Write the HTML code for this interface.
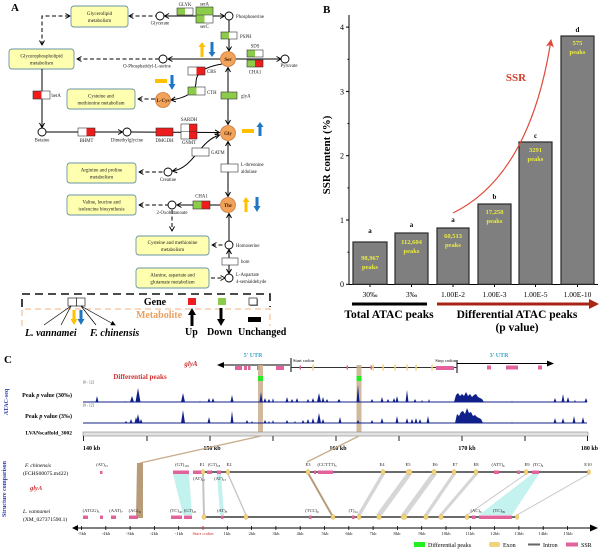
<!DOCTYPE html>
<html><head><meta charset="utf-8">
<style>
html,body{margin:0;padding:0;background:#fff;}
svg{display:block;font-family:"Liberation Serif",serif;}
.bx{fill:#ffffb0;stroke:#6a96a6;stroke-width:0.9;}
.bt{font-size:5px;text-anchor:middle;fill:#222;}
.lb{font-size:4.8px;fill:#222;}
.lbc{font-size:4.8px;fill:#222;text-anchor:middle;}
.dash{fill:none;stroke:#000;stroke-width:1;stroke-dasharray:4,2.5;}
.sl{fill:none;stroke:#000;stroke-width:1;}
.mc{fill:#fff;stroke:#000;stroke-width:0.9;}
.oc{fill:#f2a35a;stroke:#c8783a;stroke-width:0.8;}
.ct{font-size:5px;font-weight:bold;text-anchor:middle;fill:#3a1a00;}
.gb{fill:none;stroke:#333;stroke-width:0.6;}
.pk{fill:#e2629c;}
.ex{fill:#f2d27a;stroke:#d8aa40;stroke-width:0.4;}
.tk{font-size:4.6px;text-anchor:middle;fill:#222;}
.sr{font-size:4.6px;text-anchor:middle;fill:#222;}
</style></head>
<body>
<svg width="600" height="551" viewBox="0 0 600 551" xmlns="http://www.w3.org/2000/svg">
<defs>
<marker id="ah" viewBox="0 0 6 6" refX="5.5" refY="3" markerWidth="6" markerHeight="6" markerUnits="userSpaceOnUse" orient="auto-start-reverse"><path d="M1,0.5 L5.5,3 L1,5.5" fill="none" stroke="#000" stroke-width="1"/></marker>
<marker id="af" viewBox="0 0 6 6" refX="5" refY="3" markerWidth="5" markerHeight="5" markerUnits="userSpaceOnUse" orient="auto-start-reverse"><path d="M0,0 L6,3 L0,6 Z" fill="#000"/></marker>
<marker id="ar" viewBox="0 0 8 8" refX="7" refY="4" markerWidth="8" markerHeight="8" markerUnits="userSpaceOnUse" orient="auto"><path d="M0,0 L8,4 L0,8 L2,4 Z" fill="#e04a3a"/></marker>
</defs>
<rect width="600" height="551" fill="#fff"/>

<!-- ================= PANEL A ================= -->
<text x="11" y="11" font-size="11" font-weight="bold">A</text>

<!-- boxes -->
<rect class="bx" x="71" y="6" width="57" height="21" rx="3"/>
<text class="bt" x="99.5" y="15">Glycerolipid</text><text class="bt" x="99.5" y="22">metabolism</text>
<rect class="bx" x="9" y="49" width="65" height="20" rx="3"/>
<text class="bt" x="41.5" y="57.5">Glycerophospholipid</text><text class="bt" x="41.5" y="64.5">metabolism</text>
<rect class="bx" x="67" y="89" width="68" height="20" rx="3"/>
<text class="bt" x="101" y="97.5">Cysteine and</text><text class="bt" x="101" y="104.5">methionine metabolism</text>
<rect class="bx" x="67" y="163" width="69" height="20" rx="3"/>
<text class="bt" x="101.5" y="171.5">Arginine and proline</text><text class="bt" x="101.5" y="178.5">metabolism</text>
<rect class="bx" x="67" y="195" width="69" height="20" rx="3"/>
<text class="bt" x="101.5" y="203.5">Valine, leucine and</text><text class="bt" x="101.5" y="210.5">isoleucine biosynthesis</text>
<rect class="bx" x="136" y="236" width="73" height="19" rx="3"/>
<text class="bt" x="172.5" y="244">Cysteine and methionine</text><text class="bt" x="172.5" y="251">metabolism</text>
<rect class="bx" x="136" y="268" width="73" height="20" rx="3"/>
<text class="bt" x="172.5" y="276.5">Alanine, aspartate and</text><text class="bt" x="172.5" y="283.5">glutamate metabolism</text>

<!-- dashed connections -->
<path class="dash" d="M42,45 L42,16 L70,16" marker-start="url(#ah)" marker-end="url(#ah)"/>
<path class="dash" d="M129,16 L156,16" marker-start="url(#ah)"/>
<path class="dash" d="M77,59 L159,59" marker-start="url(#ah)"/>
<path class="dash" d="M138,99 L155,99" marker-start="url(#ah)"/>
<path class="dash" d="M139,172 L164,172" marker-start="url(#ah)"/>
<path class="dash" d="M139,205 L168,205" marker-start="url(#ah)"/>
<path class="dash" d="M172,210 L172,231" marker-end="url(#ah)"/>
<path class="dash" d="M212,245 L225,245" marker-start="url(#ah)"/>
<path class="dash" d="M211,278 L225,278" marker-end="url(#ah)"/>

<!-- solid connections -->
<path class="sl" d="M164.5,16 L224.5,16" marker-start="url(#ah)" marker-end="url(#ah)"/>
<path class="sl" d="M229,20 L229,51" marker-end="url(#ah)"/>
<path class="sl" d="M220,59 L168,59" marker-end="url(#ah)"/>
<path class="sl" d="M236,59 L281,59" marker-end="url(#ah)"/>
<path class="sl" d="M222,64 C203,67 196,74 196,82 C196,92 186,98 171,100" marker-end="url(#ah)"/>
<path class="sl" d="M228,67.5 L228,124.5" marker-start="url(#ah)" marker-end="url(#ah)"/>
<path class="sl" d="M42,69 L42,127.5" marker-end="url(#ah)"/>
<path class="sl" d="M46,132 L122.5,132" marker-end="url(#ah)"/>
<path class="sl" d="M131,132 L219.5,132.5" marker-end="url(#ah)"/>
<path class="sl" d="M172.5,171 C194,168 199,141 219.5,135" marker-start="url(#ah)" marker-end="url(#ah)"/>
<path class="sl" d="M228,141.5 L228,196.5" marker-start="url(#ah)" marker-end="url(#ah)"/>
<path class="sl" d="M220,205 L177,205" marker-end="url(#ah)"/>
<path class="sl" d="M229,241 L229,213.5" marker-end="url(#ah)"/>
<path class="sl" d="M229,249.5 L229,273.5" marker-start="url(#ah)" marker-end="url(#ah)"/>

<!-- metabolite circles -->
<circle class="mc" cx="160" cy="16" r="4"/>
<text class="lbc" x="160" y="24.5">Glycerate</text>
<circle class="mc" cx="229" cy="16" r="4"/>
<text class="lb" x="236" y="18">Phosphoserine</text>
<circle class="mc" cx="163" cy="59" r="4"/>
<text class="lbc" x="147" y="67.5">O-Phosphatidyl-L-serine</text>
<circle class="mc" cx="285" cy="59" r="4"/>
<text class="lbc" x="289" y="67">Pyruvate</text>
<circle class="mc" cx="42" cy="132" r="4"/>
<text class="lbc" x="42" y="141.5">Betaine</text>
<circle class="mc" cx="127" cy="132" r="4"/>
<text class="lbc" x="127" y="141.5">Dimethylglycine</text>
<circle class="mc" cx="168" cy="172" r="4"/>
<text class="lbc" x="168" y="181">Creatine</text>
<circle class="mc" cx="172" cy="205" r="4"/>
<text class="lbc" x="172" y="214">2-Oxobutanoate</text>
<circle class="mc" cx="229" cy="245" r="4"/>
<text class="lb" x="236" y="247">Homoserine</text>
<circle class="mc" cx="229" cy="278" r="4"/>
<text class="lb" x="236" y="276">L-Aspartate</text>
<text class="lb" x="236" y="283">4-semialdehyde</text>

<!-- orange amino acids -->
<circle class="oc" cx="228" cy="59" r="7.5"/><text class="ct" x="228" y="61">Ser</text>
<circle class="oc" cx="163" cy="100" r="7.5"/><text class="ct" x="163" y="102" font-size="4.5">L-Cys</text>
<circle class="oc" cx="228" cy="133" r="7.5"/><text class="ct" x="228" y="135">Gly</text>
<circle class="oc" cx="228" cy="205" r="7.5"/><text class="ct" x="228" y="207">Thr</text>

<!-- gene boxes -->
<g>
<rect x="177" y="8" width="8" height="7" fill="#8dcb4a"/><rect x="185" y="8" width="8" height="7" fill="#fff"/><rect class="gb" x="177" y="8" width="16" height="7"/>
<text class="lbc" x="185" y="6">GLYK</text>
<rect x="196" y="7" width="17" height="8" fill="#8dcb4a"/><rect x="196" y="15" width="8.5" height="8" fill="#8dcb4a"/><rect x="204.5" y="15" width="8.5" height="8" fill="#fff"/><rect class="gb" x="196" y="7" width="17" height="16"/><line x1="196" y1="15" x2="213" y2="15" stroke="#333" stroke-width="0.5"/>
<text class="lbc" x="204.5" y="5.5">serA</text><text class="lbc" x="204.5" y="28">serC</text>
<rect x="221" y="32" width="8" height="7" fill="#8dcb4a"/><rect x="229" y="32" width="8" height="7" fill="#fff"/><rect class="gb" x="221" y="32" width="16" height="7"/>
<text class="lb" x="240" y="38">PSPH</text>
<rect x="247" y="50" width="8" height="7" fill="#8dcb4a"/><rect x="255" y="50" width="8" height="7" fill="#fff"/><rect class="gb" x="247" y="50" width="16" height="7"/>
<rect x="247" y="60" width="8" height="7" fill="#8dcb4a"/><rect x="255" y="60" width="8" height="7" fill="#ee1c1c"/><rect class="gb" x="247" y="60" width="16" height="7"/>
<text class="lbc" x="255" y="47.5">SDS</text><text class="lbc" x="255" y="73.5">CHA1</text>
<rect x="188" y="67" width="8.5" height="8" fill="#fff"/><rect x="196.5" y="67" width="8.5" height="8" fill="#ee1c1c"/><rect class="gb" x="188" y="67" width="17" height="8"/>
<text class="lb" x="207" y="73">CBS</text>
<rect x="188" y="87" width="8.5" height="8" fill="#8dcb4a"/><rect x="196.5" y="87" width="8.5" height="8" fill="#fff"/><rect class="gb" x="188" y="87" width="17" height="8"/>
<text class="lb" x="207" y="94">CTH</text>
<rect x="221" y="92" width="16" height="7" fill="#8dcb4a"/><rect class="gb" x="221" y="92" width="16" height="7"/>
<text class="lb" x="241" y="97.5">glyA</text>
<rect x="33" y="91" width="8.5" height="8" fill="#ee1c1c"/><rect x="41.5" y="91" width="8.5" height="8" fill="#fff"/><rect class="gb" x="33" y="91" width="17" height="8"/>
<text class="lb" x="51.5" y="97">betA</text>
<rect x="78" y="128" width="8.5" height="8" fill="#fff"/><rect x="86.5" y="128" width="8.5" height="8" fill="#ee1c1c"/><rect class="gb" x="78" y="128" width="17" height="8"/>
<text class="lbc" x="86.5" y="142">BHMT</text>
<rect x="156" y="128" width="17" height="8" fill="#ee1c1c"/><rect class="gb" x="156" y="128" width="17" height="8"/>
<text class="lbc" x="164.5" y="142">DMGDH</text>
<rect x="181" y="124" width="8" height="15" fill="#fff"/><rect x="189" y="124" width="8" height="15" fill="#ee1c1c"/><rect class="gb" x="181" y="124" width="16" height="15"/><line x1="181" y1="131.5" x2="197" y2="131.5" stroke="#333" stroke-width="0.5"/>
<text class="lbc" x="189" y="121">SARDH</text><text class="lbc" x="189" y="144">GNMT</text>
<rect x="192" y="148" width="17" height="8" fill="#fff"/><rect class="gb" x="192" y="148" width="17" height="8"/>
<text class="lb" x="211" y="154">GATM</text>
<rect x="221" y="164" width="17" height="8" fill="#fff"/><rect class="gb" x="221" y="164" width="17" height="8"/>
<text class="lb" x="241" y="166">L-threonine</text><text class="lb" x="241" y="173">aldolase</text>
<rect x="193" y="201" width="8.5" height="8" fill="#8dcb4a"/><rect x="201.5" y="201" width="8.5" height="8" fill="#ee1c1c"/><rect class="gb" x="193" y="201" width="17" height="8"/>
<text class="lbc" x="201.5" y="197.5">CHA1</text>
<rect x="222" y="258" width="16" height="7" fill="#fff"/><rect class="gb" x="222" y="258" width="16" height="7"/>
<text class="lb" x="241" y="263">hom</text>
</g>

<!-- trend arrows -->
<g>
<rect x="200.5" y="46" width="3" height="11" fill="#ffc000"/><polygon points="198.5,47 202,42 205.5,47" fill="#ffc000"/>
<rect x="210.5" y="42" width="3" height="11" fill="#1f77c4"/><polygon points="208.5,52 212,57 215.5,52" fill="#1f77c4"/>
<rect x="155" y="79" width="12" height="4" fill="#ffc000"/>
<rect x="170.5" y="75" width="3" height="10" fill="#1f77c4"/><polygon points="168.5,84 172,90 175.5,84" fill="#1f77c4"/>
<rect x="242" y="129" width="12" height="4" fill="#ffc000"/>
<rect x="258.5" y="126" width="3" height="10" fill="#1f77c4"/><polygon points="256.5,127 260,122 263.5,127" fill="#1f77c4"/>
<rect x="244.5" y="201" width="3" height="11" fill="#ffc000"/><polygon points="242.5,202 246,197 249.5,202" fill="#ffc000"/>
<rect x="255.5" y="197" width="3" height="10" fill="#1f77c4"/><polygon points="253.5,206 257,212 260.5,206" fill="#1f77c4"/>
</g>

<!-- legend A -->
<path d="M22,307 L22,294 L270,294 L270,307" fill="none" stroke="#111" stroke-width="1.6" stroke-dasharray="8,5"/>
<path d="M22,326 L22,309 L270,309 L270,326" fill="none" stroke="#f0b07e" stroke-width="1" stroke-dasharray="6,4"/>
<rect x="68" y="298" width="8.5" height="8" fill="#fff" stroke="#222" stroke-width="0.7"/><rect x="76.5" y="298" width="8.5" height="8" fill="#fff" stroke="#222" stroke-width="0.7"/>
<path d="M71,306 L44,325 M71,306 L61,325 M81,306 L96,325 M81,306 L115,325" stroke="#000" stroke-width="0.7" marker-end="url(#af)"/>
<rect x="72.5" y="310" width="3" height="10" fill="#ffc000"/><polygon points="70.5,319 74,325 77.5,319" fill="#ffc000"/>
<rect x="79.5" y="310" width="3" height="10" fill="#1f77c4"/><polygon points="77.5,319 81,325 84.5,319" fill="#1f77c4"/>
<text x="155" y="305" font-size="10" font-weight="bold" text-anchor="middle">Gene</text>
<rect x="188" y="298" width="8" height="7" fill="#ee1c1c"/>
<rect x="218" y="298" width="8" height="7" fill="#8dcb4a"/>
<rect x="250" y="299" width="8" height="7" fill="#888"/><rect x="249" y="298" width="8" height="7" fill="#fff" stroke="#222" stroke-width="0.7"/>
<text x="159" y="318" font-size="10" font-weight="bold" text-anchor="middle" fill="#eba060">Metabolite</text>
<polygon points="188,315 192,308 196,315" fill="#000"/><rect x="190.5" y="314" width="3" height="12" fill="#000"/>
<rect x="219.5" y="308" width="3" height="12" fill="#000"/><polygon points="217,319 221,326 225,319" fill="#000"/>
<rect x="248" y="317" width="13" height="5" fill="#000"/>
<text x="25" y="336" font-size="10" font-weight="bold" font-style="italic">L. vannamei</text>
<text x="90" y="336" font-size="10" font-weight="bold" font-style="italic">F. chinensis</text>
<text x="185" y="335" font-size="10" font-weight="bold">Up</text>
<text x="207" y="335" font-size="10" font-weight="bold">Down</text>
<text x="238" y="335" font-size="10" font-weight="bold">Unchanged</text>

<!-- ================= PANEL B ================= -->
<text x="323" y="13" font-size="11" font-weight="bold">B</text>
<text transform="translate(330,155) rotate(-90)" font-size="11" font-weight="bold" text-anchor="middle">SSR content (%)</text>
<g stroke="#000" stroke-width="1">
<line x1="349" y1="15" x2="349" y2="284.5"/>
<line x1="349" y1="284.5" x2="598" y2="284.5"/>
<line x1="346" y1="284.3" x2="349" y2="284.3"/><line x1="346" y1="220" x2="349" y2="220"/><line x1="346" y1="155.7" x2="349" y2="155.7"/><line x1="346" y1="91.4" x2="349" y2="91.4"/><line x1="346" y1="27.1" x2="349" y2="27.1"/>
<line x1="347.5" y1="252.2" x2="349" y2="252.2"/><line x1="347.5" y1="187.9" x2="349" y2="187.9"/><line x1="347.5" y1="123.6" x2="349" y2="123.6"/><line x1="347.5" y1="59.3" x2="349" y2="59.3"/>
<line x1="370" y1="284.5" x2="370" y2="287"/><line x1="411.5" y1="284.5" x2="411.5" y2="287"/><line x1="453" y1="284.5" x2="453" y2="287"/><line x1="494.5" y1="284.5" x2="494.5" y2="287"/><line x1="535.5" y1="284.5" x2="535.5" y2="287"/><line x1="577.5" y1="284.5" x2="577.5" y2="287"/>
</g>
<g font-size="8" text-anchor="end">
<text x="344" y="287">0</text><text x="344" y="223">1</text><text x="344" y="158.7">2</text><text x="344" y="94.4">3</text><text x="344" y="30.1">4</text>
</g>
<g fill="#7f7f7f" stroke="#2a2a2a" stroke-width="1.2">
<rect x="353" y="242" width="34" height="42.3"/>
<rect x="395" y="233" width="33" height="51.3"/>
<rect x="437" y="228" width="32" height="56.3"/>
<rect x="478" y="204" width="33" height="80.3"/>
<rect x="519" y="142" width="33" height="142.3"/>
<rect x="561" y="36" width="33" height="248.3"/>
</g>
<g font-size="7" font-weight="bold" text-anchor="middle">
<text x="370" y="233">a</text><text x="411.5" y="227">a</text><text x="453" y="222">a</text><text x="494.5" y="199">b</text><text x="535.5" y="138">c</text><text x="577.5" y="32">d</text>
</g>
<g font-size="6.5" font-weight="bold" text-anchor="middle" fill="#ecec3c">
<text x="370" y="260">98,967</text><text x="370" y="269">peaks</text>
<text x="411.5" y="244">112,604</text><text x="411.5" y="253">peaks</text>
<text x="453" y="238">60,513</text><text x="453" y="247">peaks</text>
<text x="494.5" y="214">17,258</text><text x="494.5" y="223">peaks</text>
<text x="535.5" y="152">3291</text><text x="535.5" y="161">peaks</text>
<text x="577.5" y="45">575</text><text x="577.5" y="54">peaks</text>
</g>
<g font-size="7.5" text-anchor="middle">
<text x="370" y="297">30‰</text><text x="411.5" y="297">3‰</text><text x="453" y="297">1.00E-2</text><text x="494.5" y="297">1.00E-3</text><text x="535.5" y="297">1.00E-5</text><text x="577.5" y="297">1.00E-10</text>
</g>
<line x1="352" y1="304" x2="427" y2="304" stroke="#000" stroke-width="3"/>
<line x1="437" y1="304" x2="591" y2="304" stroke="#a82414" stroke-width="3"/>
<polygon points="589,299 599,304 589,309" fill="#a82414"/>
<text x="389" y="318" font-size="11.5" font-weight="bold" text-anchor="middle">Total ATAC peaks</text>
<text x="517" y="318" font-size="11.5" font-weight="bold" text-anchor="middle">Differential ATAC peaks</text>
<text x="517" y="331" font-size="11.5" font-weight="bold" text-anchor="middle">(p value)</text>
<path d="M453,213 Q530,175 551,40" fill="none" stroke="#e04a3a" stroke-width="1.2" marker-end="url(#ar)"/>
<text x="516" y="81" font-size="11" font-weight="bold" text-anchor="middle" fill="#d0402c">SSR</text>

<!-- ================= PANEL C ================= -->
<text x="4" y="363" font-size="11" font-weight="bold">C</text>
<text x="191" y="366" font-size="7" font-weight="bold" font-style="italic" fill="#c83030" text-anchor="middle">glyA</text>
<text x="140" y="379" font-size="7" font-weight="bold" fill="#d03030" text-anchor="middle">Differential peaks</text>

<!-- gene model -->
<text x="253" y="357" font-size="6" font-weight="bold" fill="#3aa4cc" text-anchor="middle">5' UTR</text>
<line x1="290" y1="365" x2="223" y2="365" stroke="#000" stroke-width="1.1"/>
<polygon points="224,362 217,365 224,368" fill="#000"/>
<line x1="291" y1="358" x2="291" y2="372" stroke="#555" stroke-width="1.5"/>
<text x="293" y="362" font-size="4.6">Start codon</text>
<line x1="291" y1="367.5" x2="457" y2="367.5" stroke="#333" stroke-width="0.9"/>
<line x1="457" y1="360" x2="457" y2="373" stroke="#555" stroke-width="1.5"/>
<text x="456" y="362" font-size="4.6" text-anchor="end">Stop codon</text>
<line x1="457" y1="363.5" x2="548" y2="363.5" stroke="#000" stroke-width="1.1"/>
<polygon points="547,360.5 554,363.5 547,366.5" fill="#000"/>
<text x="499" y="357" font-size="6" font-weight="bold" fill="#3aa4cc" text-anchor="middle">3' UTR</text>
<g class="pk">
<rect x="235" y="366" width="7" height="4"/><rect x="244" y="366" width="3" height="4"/><rect x="248" y="366" width="2.5" height="4"/><rect x="257" y="366" width="3" height="4"/><rect x="276" y="366" width="8" height="4"/>
<rect x="299.5" y="365.5" width="1.5" height="4"/><rect x="346.5" y="365.5" width="1.5" height="4"/><rect x="370.5" y="365.5" width="1.5" height="4"/>
<rect x="436" y="366" width="18" height="4"/>
<rect x="487" y="365.5" width="4" height="4"/><rect x="506" y="365.5" width="12" height="4"/><rect x="538" y="365.5" width="4" height="4"/>
</g>
<g fill="#f2d27a">
<rect x="312.3" y="364.5" width="1.5" height="6"/><rect x="372.3" y="364.5" width="1.5" height="6"/><rect x="382.3" y="364.5" width="1.5" height="6"/><rect x="394.3" y="364.5" width="1.5" height="6"/><rect x="406.3" y="364.5" width="1.5" height="6"/><rect x="415.3" y="364.5" width="1.5" height="6"/><rect x="431.3" y="364.5" width="1.5" height="6"/>
</g>
<rect x="258" y="365" width="5" height="71" fill="#c8ad8c" opacity="0.85"/>
<rect x="356.5" y="365" width="5" height="71" fill="#c8ad8c" opacity="0.85"/>
<rect x="258" y="376" width="5" height="5" fill="#22ee22"/>
<rect x="356.5" y="376" width="5" height="5" fill="#22ee22"/>

<!-- tracks -->
<text transform="translate(8,402) rotate(-90)" font-size="6" font-weight="bold" fill="#3040a8" text-anchor="middle">ATAC-seq</text>
<text x="83" y="383.5" font-size="3.6" fill="#444">[0 - 12]</text>
<text x="83" y="406.5" font-size="3.6" fill="#444">[0 - 12]</text>
<text x="72" y="397" font-size="6" font-weight="bold" text-anchor="end">Peak <tspan font-style="italic">p</tspan> value (30‰)</text>
<text x="72" y="418" font-size="6" font-weight="bold" text-anchor="end">Peak <tspan font-style="italic">p</tspan> value (3‰)</text>
<text x="72" y="434.5" font-size="5.5" font-weight="bold" text-anchor="end">LVANscaffold_3002</text>
<line x1="83" y1="402" x2="587" y2="402" stroke="#10208a" stroke-width="0.9"/>
<line x1="83" y1="423" x2="587" y2="423" stroke="#10208a" stroke-width="0.9"/>
<path fill="#10208a" d="M95.5,402L97,396L98.5,402Z M124,402L125,401L126,402Z M130,402L132,396L134,402Z M135.5,402L138,388L140.5,402Z M181,402L183,393L185,402Z M199,402L200,401L201,402Z M207.5,402L209,398L210.5,402Z M211.5,402L213,398L214.5,402Z M230.5,402L232,395L233.5,402Z M259.5,402L261,392L262.5,402Z M263.5,402L265,398L266.5,402Z M267.5,402L269,399L270.5,402Z M272,402L273,398L274,402Z M285.5,402L287,397L288.5,402Z M290.5,402L292,399L293.5,402Z M295.5,402L297,398L298.5,402Z M306.5,402L308,399L309.5,402Z M311.5,402L313,398L314.5,402Z M317,402L319,393L321,402Z M321.5,402L323,397L324.5,402Z M325.5,402L327,399L328.5,402Z M337,402L339,399L341,402Z M356.5,402L358,385L359.5,402Z M370.5,402L372,399L373.5,402Z M380.5,402L382,397L383.5,402Z M386.5,402L388,399L389.5,402Z M392.5,402L394,398L395.5,402Z M395.5,402L397,396L398.5,402Z M405.5,402L407,390L408.5,402Z M413.5,402L415,399L416.5,402Z M421,402L422,400L423,402Z M428,402L429,399L430,402Z M454,402L456,395L458,393L460,396L462,394L464,396L466,392L468,396L470,394L472,397L474,395L476,394L478,397L480,398L482,399L484,402Z M511,402L512,401L513,402Z M553.5,402L555,398L556.5,402Z M561.5,402L563,394L564.5,402Z M566.5,402L568,397L569.5,402Z M574,402L575,400L576,402Z M584.5,402L586,398L587.5,402Z"/>
<path fill="#10208a" d="M124.5,423L126,421L127.5,423Z M129.5,423L131,419L132.5,423Z M134.5,423L136,417L137.5,423Z M136,423L138,414L140,423Z M139.5,423L141,419L142.5,423Z M181,423L183,410L185,423Z M207.5,423L209,417L210.5,423Z M230.5,423L232,411L233.5,423Z M245.5,423L247,420L248.5,423Z M251,423L252,421L253,423Z M263.5,423L265,420L266.5,423Z M268,423L269,421L270,423Z M272,423L273,420L274,423Z M285.5,423L287,420L288.5,423Z M294,423L295,421L296,423Z M301.5,423L303,420L304.5,423Z M306.5,423L308,419L309.5,423Z M311.5,423L313,418L314.5,423Z M317,423L319,413L321,423Z M321.5,423L323,419L324.5,423Z M338.5,423L340,417L341.5,423Z M356.5,423L358,420L359.5,423Z M370.5,423L372,420L373.5,423Z M380.5,423L382,418L383.5,423Z M395.5,423L397,416L398.5,423Z M405.5,423L407,418L408.5,423Z M410.5,423L412,419L413.5,423Z M414.5,423L416,418L417.5,423Z M418.5,423L420,419L421.5,423Z M426.5,423L428,416L429.5,423Z M455,423L457,414L459,416L461,412L463,411L465,414L467,408L469,413L471,412L473,416L475,415L477,417L479,418L481,419L483,423Z M511,423L512,422L513,423Z M553.5,423L555,418L556.5,423Z M561.5,423L563,418L564.5,423Z M572.5,423L574,416L575.5,423Z M581.5,423L583,417L584.5,423Z"/>

<!-- ruler -->
<rect x="83" y="432" width="505" height="4" fill="#e2e2e2" stroke="#888" stroke-width="0.6"/>
<g stroke="#222" stroke-width="1">
<line x1="83.5" y1="436" x2="83.5" y2="441"/><line x1="147" y1="436" x2="147" y2="441"/><line x1="210" y1="436" x2="210" y2="441"/><line x1="273" y1="436" x2="273" y2="441"/><line x1="336" y1="436" x2="336" y2="441"/><line x1="399" y1="436" x2="399" y2="441"/><line x1="462" y1="436" x2="462" y2="441"/><line x1="525" y1="436" x2="525" y2="441"/><line x1="587.5" y1="436" x2="587.5" y2="441"/>
</g>
<g font-size="6" font-weight="bold">
<text x="83" y="450">140 kb</text><text x="212" y="450" text-anchor="middle">150 kb</text><text x="338" y="450" text-anchor="middle">160 kb</text><text x="467" y="450" text-anchor="middle">170 kb</text><text x="598" y="450" text-anchor="end">180 kb</text>
</g>

<!-- structure comparison -->
<text transform="translate(6,489) rotate(-90)" font-size="6" font-weight="bold" fill="#3040a8" text-anchor="middle">Structure comparison</text>
<text x="25" y="467" font-size="5.5" font-style="italic">F. chinensis</text>
<text x="23" y="475" font-size="5.5">(FCHS00075.m422)</text>
<text x="30" y="490" font-size="6.5" font-weight="bold" font-style="italic" fill="#c83030">glyA</text>
<text x="23" y="513" font-size="5.5" font-style="italic">L. vannamei</text>
<text x="23" y="521" font-size="5.5">(XM_027371590.1)</text>

<!-- tan connectors -->
<line x1="261" y1="436" x2="140" y2="463" stroke="#c8ad8c" stroke-width="1.3"/>
<polygon points="137,463 143,463 143,518 136,518" fill="#b89c7a"/>
<line x1="359" y1="436" x2="307" y2="462" stroke="#c8ad8c" stroke-width="1.3"/>
<line x1="308" y1="473" x2="333" y2="517" stroke="#b89c7a" stroke-width="2"/>

<!-- cyan / gray bands -->
<g fill="#b8f0ec" opacity="0.85">
<polygon points="173,474 189,474 192,515 183,515"/>
<polygon points="217,474 221,474 224,515 220,515"/>
<polygon points="532,474 539,474 512,515 479,515"/>
</g>
<g fill="#d2d2d2" opacity="0.9">
<polygon points="381,474 385,474 361,515 357,515"/>
<polygon points="406,474 412,474 382,515 376,515"/>
<polygon points="431,474 437,474 407,515 401,515"/>
<polygon points="452,474 456,474 428,515 424,515"/>
<polygon points="474,474 478,474 443,515 439,515"/>
</g>
<g stroke="#c4c4c4">
<line x1="203" y1="474" x2="204" y2="515" stroke-width="2"/>
<line x1="228" y1="474" x2="246" y2="515" stroke-width="1.3"/>
<line x1="526" y1="474" x2="467" y2="515" stroke-width="0.9"/>
<line x1="589" y1="474" x2="517" y2="515" stroke-width="0.9"/>
</g>

<!-- gene lines -->
<line x1="203" y1="472" x2="589" y2="472" stroke="#555" stroke-width="1.8"/>
<line x1="203" y1="517" x2="517" y2="517" stroke="#555" stroke-width="1.8"/>

<!-- SSR boxes -->
<g class="pk">
<rect x="100" y="471" width="2.5" height="3"/>
<rect x="173" y="470.5" width="16" height="3.5"/><rect x="193" y="470.5" width="9" height="3.5"/><rect x="207" y="470.5" width="5" height="3.5"/><rect x="217" y="470.5" width="4" height="3.5"/>
<rect x="314" y="470.5" width="2" height="3.5"/><rect x="318" y="470.5" width="15" height="3.5"/><rect x="494" y="470.5" width="5" height="3.5"/><rect x="517" y="470.5" width="3" height="3.5"/><rect x="532" y="470.5" width="7" height="3.5"/>
<rect x="83" y="515.5" width="5" height="3.5"/><rect x="100" y="515.5" width="3" height="3.5"/><rect x="111" y="515.5" width="5" height="3.5"/><rect x="129" y="515.5" width="9" height="3.5"/><rect x="171" y="515.5" width="11" height="3.5"/><rect x="184" y="515.5" width="8" height="3.5"/>
<rect x="221" y="515.5" width="2.5" height="3.5"/><rect x="309" y="515.5" width="2.5" height="3.5"/><rect x="352" y="515.5" width="2.5" height="3.5"/><rect x="472" y="515.5" width="3.5" height="3.5"/><rect x="479" y="515.5" width="33" height="3.5"/>
</g>
<!-- exons -->
<g class="ex">
<ellipse cx="203" cy="472" rx="1.8" ry="2.5"/><ellipse cx="228" cy="472" rx="1.8" ry="2.5"/><ellipse cx="308" cy="472" rx="2" ry="2.5"/><ellipse cx="383" cy="472" rx="2" ry="2.5"/><ellipse cx="409" cy="472" rx="3" ry="2.5"/><ellipse cx="434" cy="472" rx="2.2" ry="2.5"/><ellipse cx="454" cy="472" rx="2" ry="2.5"/><ellipse cx="476" cy="472" rx="2" ry="2.5"/><ellipse cx="526" cy="472" rx="2" ry="2.5"/><ellipse cx="589" cy="472" rx="1.5" ry="2.5"/>
<ellipse cx="204" cy="517" rx="2" ry="2.5"/><ellipse cx="246" cy="517" rx="2" ry="2.5"/><ellipse cx="333" cy="517" rx="2" ry="2.5"/><ellipse cx="359" cy="517" rx="2" ry="2.5"/><ellipse cx="379" cy="517" rx="2.2" ry="2.5"/><ellipse cx="404" cy="517" rx="3" ry="2.5"/><ellipse cx="426" cy="517" rx="2.2" ry="2.5"/><ellipse cx="441" cy="517" rx="2.2" ry="2.5"/><ellipse cx="467" cy="517" rx="2" ry="2.5"/><ellipse cx="517" cy="517" rx="1.8" ry="2.5"/>
</g>
<!-- exon labels -->
<g class="sr">
<text x="202" y="466">E1</text><text x="229" y="466">E2</text><text x="308" y="466">E3</text><text x="382" y="466">E4</text><text x="408" y="466">E5</text><text x="435" y="466">E6</text><text x="455" y="466">E7</text><text x="476" y="466">E8</text><text x="527" y="466">E9</text><text x="588" y="466">E10</text>
<text x="102" y="466">(AT)<tspan font-size="3" dy="1">15</tspan></text>
<text x="182" y="466">(GT)<tspan font-size="3" dy="1">103</tspan></text>
<text x="199" y="480">(AT)<tspan font-size="3" dy="1">12</tspan></text>
<text x="214" y="466">(GT)<tspan font-size="3" dy="1">18</tspan></text>
<text x="220" y="480">(AT)<tspan font-size="3" dy="1">13</tspan></text>
<text x="327" y="466">(CCTTT)<tspan font-size="3" dy="1">5</tspan></text>
<text x="498" y="466">(ATT)<tspan font-size="3" dy="1">6</tspan></text>
<text x="538" y="466">(TC)<tspan font-size="3" dy="1">9</tspan></text>
<text x="91" y="512">(ATGG)<tspan font-size="3" dy="1">5</tspan></text>
<text x="116" y="512">(AAT)<tspan font-size="3" dy="1">7</tspan></text>
<text x="135" y="512">(AG)<tspan font-size="3" dy="1">31</tspan></text>
<text x="176" y="512">(TC)<tspan font-size="3" dy="1">40</tspan></text>
<text x="190" y="512">(GT)<tspan font-size="3" dy="1">20</tspan></text>
<text x="222" y="512">(AT)<tspan font-size="3" dy="1">8</tspan></text>
<text x="312" y="512">(TCC)<tspan font-size="3" dy="1">6</tspan></text>
<text x="353" y="512">(T)<tspan font-size="3" dy="1">24</tspan></text>
<text x="476" y="512">(AC)<tspan font-size="3" dy="1">9</tspan></text>
<text x="499" y="512">(TC)<tspan font-size="3" dy="1">99</tspan></text>
</g>

<!-- kb axis -->
<line x1="77" y1="528" x2="591" y2="528" stroke="#000" stroke-width="1.1"/>
<polygon points="78,525 72,528 78,531" fill="#000"/>
<polygon points="590,524.5 598,528 590,531.5" fill="#000"/>
<g stroke="#000" stroke-width="0.8">
<line x1="81.5" y1="526" x2="81.5" y2="530"/><line x1="105.8" y1="526" x2="105.8" y2="530"/><line x1="130.1" y1="526" x2="130.1" y2="530"/><line x1="154.4" y1="526" x2="154.4" y2="530"/><line x1="178.7" y1="526" x2="178.7" y2="530"/>
<line x1="227.3" y1="526" x2="227.3" y2="530"/><line x1="251.6" y1="526" x2="251.6" y2="530"/><line x1="275.9" y1="526" x2="275.9" y2="530"/><line x1="300.2" y1="526" x2="300.2" y2="530"/><line x1="324.5" y1="526" x2="324.5" y2="530"/><line x1="348.8" y1="526" x2="348.8" y2="530"/><line x1="373.1" y1="526" x2="373.1" y2="530"/><line x1="397.4" y1="526" x2="397.4" y2="530"/><line x1="421.7" y1="526" x2="421.7" y2="530"/><line x1="446" y1="526" x2="446" y2="530"/><line x1="470.3" y1="526" x2="470.3" y2="530"/><line x1="494.6" y1="526" x2="494.6" y2="530"/><line x1="518.9" y1="526" x2="518.9" y2="530"/><line x1="543.2" y1="526" x2="543.2" y2="530"/><line x1="567.5" y1="526" x2="567.5" y2="530"/>
</g>
<line x1="203" y1="526" x2="203" y2="530" stroke="#d03030" stroke-width="1"/>
<g class="tk">
<text x="82" y="535">-5kb</text><text x="106" y="535">-4kb</text><text x="130" y="535">-3kb</text><text x="154" y="535">-2kb</text><text x="179" y="535">-1kb</text>
<text x="203" y="535" fill="#d03030">Start codon</text>
<text x="227" y="535">1kb</text><text x="252" y="535">2kb</text><text x="276" y="535">3kb</text><text x="300" y="535">4kb</text><text x="325" y="535">5kb</text><text x="349" y="535">6kb</text><text x="373" y="535">7kb</text><text x="397" y="535">8kb</text><text x="422" y="535">9kb</text><text x="446" y="535">10kb</text><text x="470" y="535">11kb</text><text x="495" y="535">12kb</text><text x="519" y="535">13kb</text><text x="543" y="535">14kb</text><text x="568" y="535">15kb</text>
</g>

<!-- legend C -->
<rect x="414" y="542" width="11" height="5" fill="#22ee22"/>
<text x="428" y="547" font-size="6">Differential peaks</text>
<rect x="489" y="542" width="11" height="5" rx="2" fill="#f2d27a"/>
<text x="503" y="547" font-size="6">Exon</text>
<line x1="528" y1="544.5" x2="540" y2="544.5" stroke="#666" stroke-width="2"/>
<text x="543" y="547" font-size="6">Intron</text>
<rect x="566" y="542.5" width="12" height="4" fill="#e2629c"/>
<text x="581" y="547" font-size="6">SSR</text>
</svg>
</body></html>
